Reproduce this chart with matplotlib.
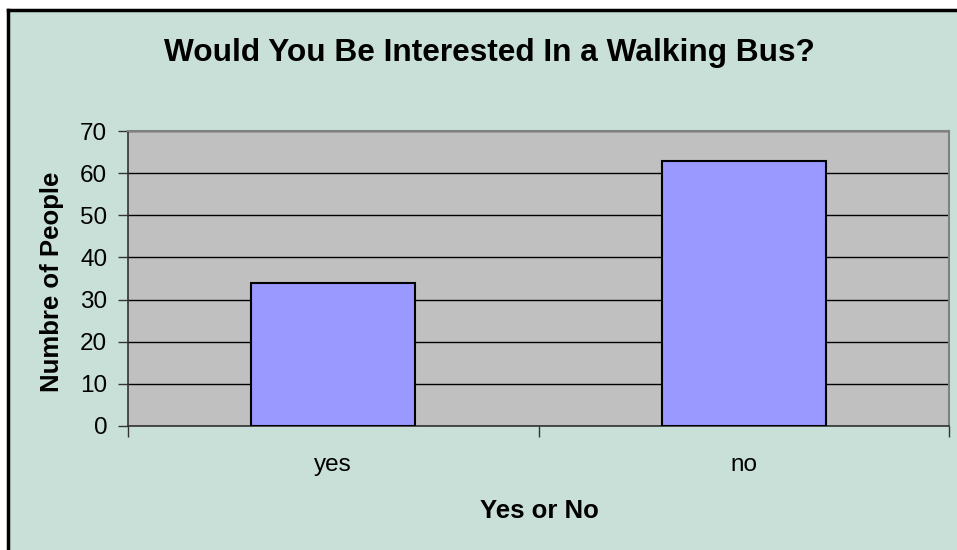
import matplotlib
matplotlib.use("Agg")
import matplotlib.pyplot as plt
from matplotlib.patches import Rectangle

categories = ["yes", "no"]
values = [34, 63]
title = "Would You Be Interested In a Walking Bus?"
xlabel = "Yes or No"
ylabel = "Numbre of People"
yticks = [0, 10, 20, 30, 40, 50, 60, 70]

plt.rcParams['font.family'] = ['Liberation Sans', 'DejaVu Sans']

W, H = 957, 550
fig = plt.figure(figsize=(W / 100, H / 100), dpi=100)
fig.patch.set_facecolor('white')

bg = '#C9E0D8'
# chart area background with black frame on left/top
fig.add_artist(Rectangle((8 / W, 0), 1 - 8 / W + 0.01, 1 - 10 / H, transform=fig.transFigure,
                         facecolor=bg, edgecolor='none', zorder=-5))
fig.add_artist(plt.Line2D([8 / W, 8 / W], [0, 1 - 10 / H], color='black', lw=2.5,
                          transform=fig.transFigure, zorder=-4))
fig.add_artist(plt.Line2D([8 / W, 1], [1 - 10 / H, 1 - 10 / H], color='black', lw=2.5,
                          transform=fig.transFigure, zorder=-4))

left, right = 128 / W, 949 / W
bottom, top = (H - 426) / H, (H - 131) / H
ax = fig.add_axes([left, bottom, right - left, top - bottom])
ax.set_zorder(2)
ax.set_facecolor('#C0C0C0')

x = list(range(len(categories)))
ax.bar(x, values, width=0.4, color='#9999FF', edgecolor='black', linewidth=1.5, zorder=3)

ax.set_xlim(-0.5, len(categories) - 0.5)
ax.set_ylim(0, 70)
ax.set_yticks(yticks)
ax.set_yticklabels([str(v) for v in yticks], fontsize=17.5)
ax.yaxis.grid(True, color='black', linewidth=1.0, zorder=1)
ax.set_axisbelow(True)

ax.set_xticks([i - 0.5 for i in range(len(categories) + 1)])
ax.set_xticklabels([])
ax.set_xticks(x, minor=True)
ax.set_xticklabels(categories, minor=True, fontsize=17.5)
ax.tick_params(axis='x', which='minor', length=0, pad=20)
ax.tick_params(axis='x', which='major', length=8, width=1, color='#333333', direction='out')
ax.tick_params(axis='y', length=7, width=1, color='#333333', direction='out', pad=8)

for s in ['top', 'right']:
    ax.spines[s].set_color('#808080')
    ax.spines[s].set_linewidth(1.5)
for s in ['left', 'bottom']:
    ax.spines[s].set_color('#333333')
    ax.spines[s].set_linewidth(1.2)

fig.text(489 / W, 1 - 53 / H, title, ha='center', va='center', fontsize=22.8, fontweight='bold')
fig.text(539 / W, 1 - 511 / H, xlabel, ha='center', va='center', fontsize=18.5, fontweight='bold')
fig.text(52 / W, 1 - 282 / H, ylabel, ha='center', va='center', fontsize=18.5, fontweight='bold', rotation=90)

fig.savefig('out.png', dpi=100, facecolor=fig.get_facecolor())
